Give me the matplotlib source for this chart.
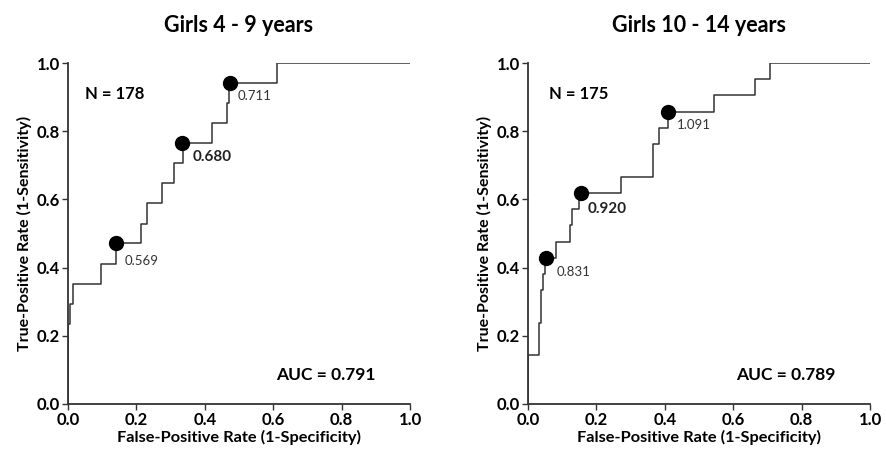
import matplotlib.pyplot as plt

plt.rcParams['font.family'] = ['Lato', 'DejaVu Sans']

# ROC staircase corners (fpr, tpr), steps-post
fpr_young = [0.0, 0.0, 0.006, 0.014, 0.096, 0.140, 0.213, 0.232, 0.274, 0.310,
             0.337, 0.420, 0.464, 0.470, 0.612, 1.0]
tpr_young = [0.0, 0.235, 0.294, 0.353, 0.412, 0.471, 0.529, 0.588, 0.647, 0.706,
             0.765, 0.824, 0.882, 0.941, 1.0, 1.0]
fpr_old = [0.0, 0.0, 0.032, 0.038, 0.045, 0.050, 0.082, 0.123, 0.130, 0.150,
           0.272, 0.365, 0.384, 0.410, 0.545, 0.664, 0.708, 1.0]
tpr_old = [0.0, 0.143, 0.238, 0.333, 0.381, 0.429, 0.476, 0.524, 0.571, 0.619,
           0.667, 0.762, 0.810, 0.857, 0.905, 0.952, 1.0, 1.0]

# cut-off points marked on each curve
cut_x_young = [0.140, 0.334, 0.475]
cut_y_young = [0.471, 0.765, 0.941]
cut_lab_young = ['0.569', '0.680', '0.711']
cut_x_old = [0.053, 0.154, 0.410]
cut_y_old = [0.429, 0.619, 0.857]
cut_lab_old = ['0.831', '0.920', '1.091']

panels = [
    dict(title='Girls 4 - 9 years', fpr=fpr_young, tpr=tpr_young,
         cx=cut_x_young, cy=cut_y_young, labs=cut_lab_young,
         lab_pos=[(0.167, 0.42), (0.365, 0.723), (0.497, 0.902)],
         bold=[False, True, False], n='N = 178', auc='AUC = 0.791',
         n_x=0.05, left=68 / 887),
    dict(title='Girls 10 - 14 years', fpr=fpr_old, tpr=tpr_old,
         cx=cut_x_old, cy=cut_y_old, labs=cut_lab_old,
         lab_pos=[(0.085, 0.386), (0.175, 0.571), (0.436, 0.818)],
         bold=[False, True, False], n='N = 175', auc='AUC = 0.789',
         n_x=0.06, left=528 / 887),
]

fig = plt.figure(figsize=(8.87, 4.55), dpi=100)
ticks = [0.0, 0.2, 0.4, 0.6, 0.8, 1.0]
for p in panels:
    ax = fig.add_axes([p['left'], 1 - 404 / 455, 342 / 887, 341 / 455])
    ax.plot(p['fpr'], p['tpr'], drawstyle='steps-post', color='#333333', lw=1.1)
    ax.plot(p['cx'], p['cy'], 'o', color='black', ms=10)
    for (tx, ty), t, b in zip(p['lab_pos'], p['labs'], p['bold']):
        if b:
            ax.text(tx, ty, t, fontsize=11, fontweight='bold', va='center', color='#222222')
        else:
            ax.text(tx, ty, t, fontsize=9.5, va='center', color='#333333')
    ax.text(p['n_x'], 0.91, p['n'], fontsize=12, fontweight='bold', va='center')
    ax.text(0.9, 0.085, p['auc'], fontsize=12.5, fontweight='bold',
            va='center', ha='right')
    ax.set_xlim(0, 1)
    ax.set_ylim(0, 1)
    ax.set_xticks(ticks)
    ax.set_yticks(ticks)
    ax.set_xticklabels(['%.1f' % t for t in ticks], fontweight='bold', fontsize=12)
    ax.set_yticklabels(['%.1f' % t for t in ticks], fontweight='bold', fontsize=12)
    ax.tick_params(direction='out', length=4, width=1, color='#333333', pad=2)
    ax.spines['top'].set_visible(False)
    ax.spines['right'].set_visible(False)
    for s in ['left', 'bottom']:
        ax.spines[s].set_color('#333333')
        ax.spines[s].set_linewidth(1.3)
    ax.set_xlabel('False-Positive Rate (1-Specificity)', fontweight='bold', fontsize=11.8, labelpad=1)
    ax.set_ylabel('True-Positive Rate (1-Sensitivity)', fontweight='bold', fontsize=11.5, labelpad=3)
    ax.set_title(p['title'], fontweight='bold', fontsize=15.5, pad=22)

fig.savefig('out.png', dpi=100)
